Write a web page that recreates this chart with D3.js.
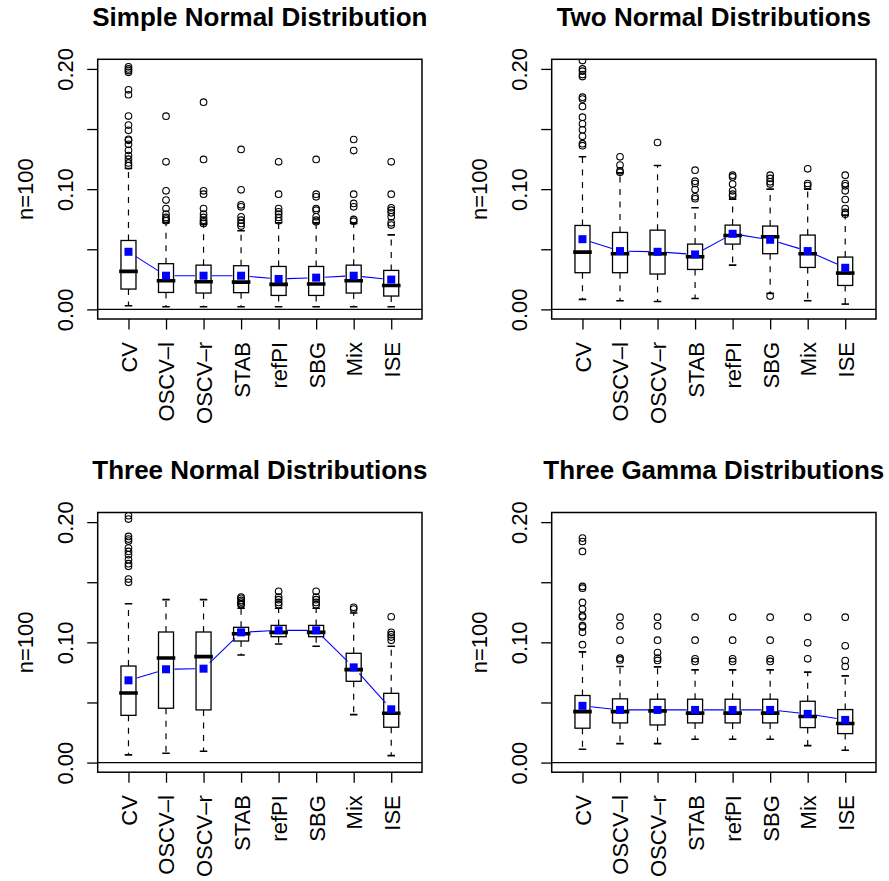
<!DOCTYPE html>
<html>
<head>
<meta charset="utf-8">
<script src="https://cdn.jsdelivr.net/npm/d3@7"></script>
<style>
  body { margin: 0; background: #fff; }
  svg { display: block; }
  text { font-family: "Liberation Sans", Arial, Helvetica, sans-serif; fill: #000; }
</style>
</head>
<body>
<svg id="chart" width="889" height="881"></svg>
<script>
// Bandwidth selectors compared on each simulated distribution (n = 100)
const methods = ["CV", "OSCV\u2013l", "OSCV\u2013r", "STAB", "refPI", "SBG", "Mix", "ISE"];
const panelTitles = ["Simple Normal Distribution", "Two Normal Distributions",
                     "Three Normal Distributions", "Three Gamma Distributions"];
const yTicks = [0, 0.05, 0.10, 0.15, 0.20];
const yTickLabels = ["0.00", "", "0.10", "", "0.20"];
const yLabel = "n=100";

// Simple normal distribution
const simpleLow  = [0.0030, 0.0022, 0.0022, 0.0022, 0.0022, 0.0022, 0.0022, 0.0022];
const simpleQ1   = [0.0169, 0.0141, 0.0136, 0.0139, 0.0116, 0.0116, 0.0136, 0.0111];
const simpleMed  = [0.0316, 0.0238, 0.0230, 0.0227, 0.0208, 0.0211, 0.0238, 0.0199];
const simpleQ3   = [0.0573, 0.0380, 0.0368, 0.0363, 0.0357, 0.0357, 0.0368, 0.0324];
const simpleHigh = [0.1172, 0.0720, 0.0709, 0.0654, 0.0720, 0.0720, 0.0715, 0.0620];
const simpleMean = [0.0479, 0.0280, 0.0280, 0.0280, 0.0253, 0.0264, 0.0280, 0.0248];
const simpleOut  = [
  [0.2017, 0.2000, 0.1986, 0.1972, 0.1826, 0.1785, 0.1608, 0.1533, 0.1489, 0.1414, 0.1406, 0.1373, 0.1323, 0.1279, 0.1249, 0.1218, 0.1195],
  [0.1607, 0.1227, 0.0986, 0.0909, 0.0839, 0.0792, 0.0765, 0.0751, 0.0737],
  [0.1723, 0.1247, 0.0986, 0.0958, 0.0839, 0.0792, 0.0765, 0.0742, 0.0729, 0.0715],
  [0.1330, 0.0994, 0.0870, 0.0853, 0.0770, 0.0742, 0.0715, 0.0693],
  [0.1227, 0.0958, 0.0839, 0.0812, 0.0792, 0.0765, 0.0737],
  [0.1247, 0.0958, 0.0936, 0.0839, 0.0825, 0.0770, 0.0742, 0.0729],
  [0.1413, 0.1321, 0.0958, 0.0881, 0.0853, 0.0748, 0.0734],
  [0.1227, 0.0958, 0.0845, 0.0825, 0.0803, 0.0770, 0.0720, 0.0701]
];

// Mixture of two normal distributions
const twoLow  = [0.0083, 0.0072, 0.0066, 0.0091, 0.0368, 0.0133, 0.0072, 0.0044];
const twoQ1   = [0.0305, 0.0305, 0.0294, 0.0332, 0.0543, 0.0463, 0.0349, 0.0199];
const twoMed  = [0.0476, 0.0463, 0.0463, 0.0438, 0.0615, 0.0604, 0.0463, 0.0302];
const twoQ3   = [0.0698, 0.0640, 0.0659, 0.0543, 0.0701, 0.0693, 0.0618, 0.0435];
const twoHigh = [0.1269, 0.1136, 0.1197, 0.0845, 0.0917, 0.1000, 0.1000, 0.0784];
const twoMean = [0.0584, 0.0485, 0.0479, 0.0457, 0.0629, 0.0579, 0.0485, 0.0346];
const twoOut  = [
  [0.2069, 0.2000, 0.1981, 0.1953, 0.1936, 0.1765, 0.1749, 0.1688, 0.1599, 0.1544, 0.1494, 0.1439, 0.1378, 0.1362],
  [0.1269, 0.1200, 0.1152, 0.1140],
  [0.1388],
  [0.1158, 0.1066, 0.1047, 0.0997, 0.0936, 0.0920],
  [0.1116, 0.1102, 0.1042, 0.0986, 0.0958, 0.0942],
  [0.1116, 0.1089, 0.1061, 0.1042, 0.0111],
  [0.1169, 0.1047, 0.1030],
  [0.1116, 0.1047, 0.1028, 0.0986, 0.0914, 0.0839, 0.0806, 0.0792]
];

// Mixture of three normal distributions
const threeLow  = [0.0064, 0.0078, 0.0094, 0.0895, 0.0986, 0.0967, 0.0399, 0.0058];
const threeQ1   = [0.0393, 0.0452, 0.0438, 0.1011, 0.1047, 0.1047, 0.0676, 0.0294];
const threeMed  = [0.0579, 0.0870, 0.0881, 0.1072, 0.1083, 0.1083, 0.0773, 0.0410];
const threeQ3   = [0.0803, 0.1086, 0.1086, 0.1125, 0.1141, 0.1141, 0.0909, 0.0576];
const threeHigh = [0.1321, 0.1355, 0.1355, 0.1283, 0.1283, 0.1283, 0.1244, 0.0967];
const threeMean = [0.0684, 0.0776, 0.0781, 0.1083, 0.1100, 0.1100, 0.0792, 0.0443];
const threeOut  = [
  [0.2053, 0.2025, 0.1881, 0.1859, 0.1842, 0.1784, 0.1756, 0.1729, 0.1687, 0.1654, 0.1632, 0.1526, 0.1499],
  [],
  [],
  [0.1377, 0.1366, 0.1349, 0.1335, 0.1321, 0.1313],
  [0.1424, 0.1377, 0.1355, 0.1332, 0.1313],
  [0.1424, 0.1377, 0.1355, 0.1332, 0.1313],
  [0.1291, 0.1277],
  [0.1213, 0.1083, 0.1064, 0.1044, 0.1017]
];

// Mixture of three gamma distributions
const gammaLow  = [0.0111, 0.0158, 0.0158, 0.0194, 0.0194, 0.0194, 0.0141, 0.0103];
const gammaQ1   = [0.0286, 0.0330, 0.0313, 0.0330, 0.0330, 0.0330, 0.0291, 0.0241];
const gammaMed  = [0.0424, 0.0424, 0.0430, 0.0411, 0.0411, 0.0411, 0.0383, 0.0325];
const gammaQ3   = [0.0558, 0.0530, 0.0527, 0.0527, 0.0527, 0.0527, 0.0510, 0.0441];
const gammaHigh = [0.0921, 0.0799, 0.0796, 0.0771, 0.0771, 0.0771, 0.0752, 0.0721];
const gammaMean = [0.0472, 0.0438, 0.0438, 0.0438, 0.0438, 0.0438, 0.0405, 0.0355];
const gammaOut  = [
  [0.1867, 0.1839, 0.1756, 0.1465, 0.1451, 0.1332, 0.1277, 0.1222, 0.1211, 0.1139, 0.1127, 0.1083, 0.0981],
  [0.1209, 0.1137, 0.1018, 0.0868, 0.0854],
  [0.1209, 0.1137, 0.1018, 0.0915, 0.0868, 0.0849],
  [0.1209, 0.1018, 0.0863, 0.0841],
  [0.1209, 0.1018, 0.0863, 0.0841],
  [0.1209, 0.1018, 0.0863, 0.0841],
  [0.1209, 0.0996, 0.0863],
  [0.1209, 0.0971, 0.0849, 0.0799]
];

// Assemble per-panel statistics
function boxStats(low, q1, med, q3, high, mean, out) {
  return methods.map((m, i) => ({
    pos: i + 1, name: m, low: low[i], q1: q1[i], med: med[i],
    q3: q3[i], high: high[i], mean: mean[i], out: out[i]
  }));
}
const panelData = [
  boxStats(simpleLow, simpleQ1, simpleMed, simpleQ3, simpleHigh, simpleMean, simpleOut),
  boxStats(twoLow, twoQ1, twoMed, twoQ3, twoHigh, twoMean, twoOut),
  boxStats(threeLow, threeQ1, threeMed, threeQ3, threeHigh, threeMean, threeOut),
  boxStats(gammaLow, gammaQ1, gammaMed, gammaQ3, gammaHigh, gammaMean, gammaOut)
];

// Layout of the 2 x 2 grid of plot regions
const W = 324.3, H = 259.7;
const origins = [[97.7, 59.3], [551.7, 59.3], [97.7, 512.5], [551.7, 512.5]];

const svg = d3.select("#chart");

function drawPanel(k) {
  const data = panelData[k];
  const [ox, oy] = origins[k];
  const g = svg.append("g").attr("transform", `translate(${ox},${oy})`);

  const x = d3.scaleLinear().domain([0.18, 8.82]).range([0, W]);
  const y = d3.scaleLinear().domain([-0.008, 0.208]).range([H, 0]);
  const bw = x(1.4) - x(1);

  g.append("clipPath").attr("id", "clip" + k)
    .append("rect").attr("x", 0).attr("y", 0).attr("width", W).attr("height", H);
  const plot = g.append("g").attr("clip-path", `url(#clip${k})`);

  // reference line at zero
  plot.append("line")
    .attr("x1", 0).attr("x2", W).attr("y1", y(0)).attr("y2", y(0))
    .attr("stroke", "#000").attr("stroke-width", 1.3);

  const box = plot.selectAll("g.box").data(data).join("g").attr("class", "box");

  // whiskers
  box.append("line")
    .attr("x1", d => x(d.pos)).attr("x2", d => x(d.pos))
    .attr("y1", d => y(d.q3)).attr("y2", d => y(d.high))
    .attr("stroke", "#000").attr("stroke-width", 1.2).attr("stroke-dasharray", "6,6.5");
  box.append("line")
    .attr("x1", d => x(d.pos)).attr("x2", d => x(d.pos))
    .attr("y1", d => y(d.q1)).attr("y2", d => y(d.low))
    .attr("stroke", "#000").attr("stroke-width", 1.2).attr("stroke-dasharray", "6,6.5");
  // staples
  ["high", "low"].forEach(key => {
    box.append("line")
      .attr("x1", d => x(d.pos) - bw / 4).attr("x2", d => x(d.pos) + bw / 4)
      .attr("y1", d => y(d[key])).attr("y2", d => y(d[key]))
      .attr("stroke", "#000").attr("stroke-width", 1.6);
  });
  // boxes
  box.append("rect")
    .attr("x", d => x(d.pos) - bw / 2).attr("width", bw)
    .attr("y", d => y(d.q3)).attr("height", d => y(d.q1) - y(d.q3))
    .attr("fill", "none").attr("stroke", "#000").attr("stroke-width", 1.3);
  // medians
  box.append("line")
    .attr("x1", d => x(d.pos) - bw / 2).attr("x2", d => x(d.pos) + bw / 2)
    .attr("y1", d => y(d.med)).attr("y2", d => y(d.med))
    .attr("stroke", "#000").attr("stroke-width", 3.6).attr("stroke-linecap", "square");
  // outliers
  box.selectAll("circle")
    .data(d => d.out.map(v => ({ pos: d.pos, v })))
    .join("circle")
    .attr("cx", d => x(d.pos)).attr("cy", d => y(d.v)).attr("r", 3.3)
    .attr("fill", "none").attr("stroke", "#000").attr("stroke-width", 1.1);

  // means joined by a line that stops short of each marker
  const gap = 8.5;
  const pts = data.map(d => [x(d.pos), y(d.mean)]);
  for (let i = 0; i < pts.length - 1; i++) {
    const [x1, y1] = pts[i], [x2, y2] = pts[i + 1];
    const len = Math.hypot(x2 - x1, y2 - y1);
    if (len <= 2 * gap) continue;
    const ux = (x2 - x1) / len, uy = (y2 - y1) / len;
    plot.append("line")
      .attr("x1", x1 + ux * gap).attr("y1", y1 + uy * gap)
      .attr("x2", x2 - ux * gap).attr("y2", y2 - uy * gap)
      .attr("stroke", "#0000ff").attr("stroke-width", 1.1);
  }
  plot.selectAll("rect.mean").data(data).join("rect").attr("class", "mean")
    .attr("x", d => x(d.pos) - 4).attr("y", d => y(d.mean) - 4)
    .attr("width", 8).attr("height", 8).attr("fill", "#0000ff");

  // frame
  g.append("rect").attr("width", W).attr("height", H)
    .attr("fill", "none").attr("stroke", "#000").attr("stroke-width", 1.5);

  // y axis
  const ya = g.append("g").call(
    d3.axisLeft(y).tickValues(yTicks).tickSize(10.5).tickSizeOuter(0)
      .tickFormat((d, i) => yTickLabels[i]));
  ya.select(".domain").remove();
  ya.selectAll(".tick line").attr("stroke", "#000").attr("stroke-width", 1.3);
  ya.selectAll(".tick text")
    .attr("x", 0).attr("y", 0).attr("dy", null)
    .attr("text-anchor", "middle")
    .attr("transform", "translate(-24.5,0) rotate(-90)")
    .style("font-size", "22px").attr("font-family", null);

  // x axis
  const xa = g.append("g").attr("transform", `translate(0,${H})`).call(
    d3.axisBottom(x).tickValues(d3.range(1, methods.length + 1)).tickSize(10.5).tickSizeOuter(0)
      .tickFormat(i => methods[i - 1]));
  xa.select(".domain").remove();
  xa.selectAll(".tick line").attr("stroke", "#000").attr("stroke-width", 1.3);
  xa.selectAll(".tick text")
    .attr("x", 0).attr("y", 0).attr("dy", "0.36em")
    .attr("text-anchor", "end")
    .attr("transform", "translate(0,23) rotate(-90)")
    .style("font-size", "22px").attr("font-family", null);

  // y label
  g.append("text")
    .attr("transform", `translate(-65,${H / 2}) rotate(-90)`)
    .attr("text-anchor", "middle")
    .style("font-size", "22px")
    .text(yLabel);

  // title
  g.append("text")
    .attr("x", W / 2).attr("y", -33.3)
    .attr("text-anchor", "middle")
    .style("font-size", "26px").style("font-weight", "bold")
    .text(panelTitles[k]);
}

for (let k = 0; k < 4; k++) drawPanel(k);
</script>
</body>
</html>
